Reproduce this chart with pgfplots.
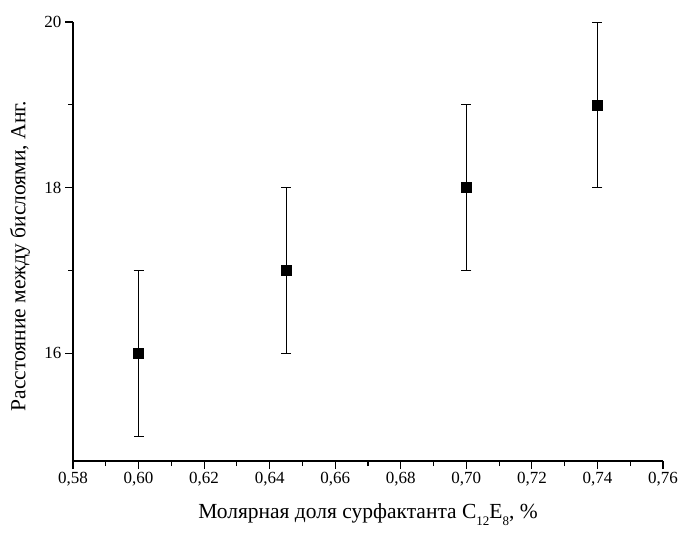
\documentclass[border=0pt]{standalone}
\usepackage{pgfplots}
\pgfplotsset{compat=1.18}
\usepackage{fontspec}
\setmainfont{Liberation Serif}
\newcommand{\sub}[1]{\raisebox{-0.32em}{\fontsize{13}{13}\selectfont #1}}
\begin{document}
\begin{tikzpicture}
\begin{axis}[
  scale only axis,
  width=590pt, height=439pt,
  xmin=0.58, xmax=0.76,
  ymin=14.7, ymax=20,
  axis lines*=left,
  axis line style={line width=1.2pt},
  xtick={0.58,0.60,...,0.76},
  ytick={16,18,20},
  minor x tick num=1,
  minor y tick num=1,
  tick align=outside,
  major tick length=8pt,
  minor tick length=5pt,
  every tick/.style={black, line width=1.2pt},
  tick label style={font=\fontsize{17}{20}\selectfont},
  /pgf/number format/assume math mode=true,
  xticklabel style={/pgf/number format/.cd, fixed, fixed zerofill, precision=2, use comma},
  yticklabel style={/pgf/number format/.cd, fixed, precision=0},
  xlabel={Молярная доля сурфактанта C\sub{12}E\sub{8}, \%},
  ylabel={Расстояние между бислоями, Анг.},
  label style={font=\fontsize{21.5}{25}\selectfont},
  xlabel style={at={(axis description cs:0.5,-0.123)}, anchor=center},
  ylabel style={at={(axis description cs:-0.09,0.467)}, anchor=center},
  clip=false,
]
\addplot[black, only marks, mark=square*, mark size=5pt,
  error bars/.cd, y dir=both, y explicit,
  error bar style={line width=0.8pt, black},
  error mark options={rotate=90, mark size=5pt, line width=0.8pt, black}]
  coordinates {
  (0.600,16) +- (0,1)
  (0.645,17) +- (0,1)
  (0.700,18) +- (0,1)
  (0.740,19) +- (0,1)
};
\end{axis}
\pgfresetboundingbox
\path (current axis.south west) ++(-73pt,-71pt) coordinate (bbA);
\path (current axis.north east) ++(16pt,22pt) coordinate (bbB);
\path[use as bounding box] (bbA) rectangle (bbB);
\end{tikzpicture}
\end{document}
